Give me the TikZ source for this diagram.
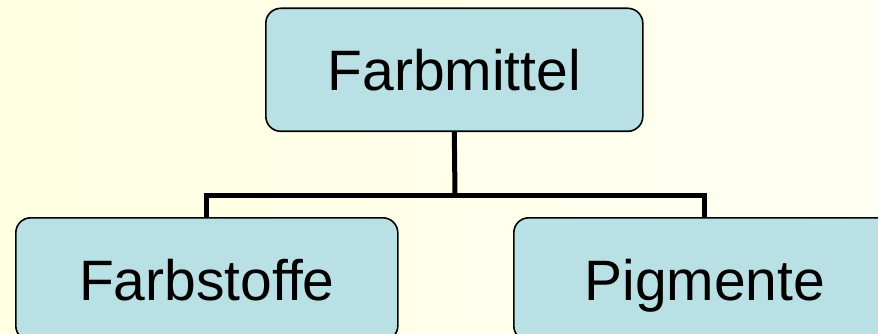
\documentclass[tikz,border=0pt]{standalone}
\usepackage{fontspec}
\setmainfont{Liberation Sans}
\definecolor{boxfill}{RGB}{185,224,228}
\definecolor{bgleft}{RGB}{255,255,225}
\definecolor{bgright}{RGB}{255,255,243}
\begin{document}
\begin{tikzpicture}[
  box/.style={draw=black, line width=1.6pt, fill=boxfill, rounded corners=15pt,
    minimum width=377pt, minimum height=123pt, inner sep=0pt,
    text height=41.5pt, text depth=0pt,
    font=\fontsize{57}{60}\selectfont},
  conn/.style={draw=black, line width=5pt}
]
\useasboundingbox (0,0) rectangle (878pt,-334pt);
\clip (0,0) rectangle (878pt,-334pt);
\shade[left color=bgleft, right color=bgright] (0,0) rectangle (878pt,-334pt);
\node[box, anchor=north west] (top) at (265pt,-7.5pt) {Farbmittel};
\node[box, anchor=north west, minimum width=382pt] (bl) at (15pt,-217pt) {Farbstoffe};
\node[box, anchor=north west, minimum width=382pt] (br) at (513pt,-217pt) {Pigmente};
\coordinate (j) at (455pt,-195pt);
\draw[conn] (top.south) -- (j);
\draw[conn] (bl.north) |- (j) -| (br.north);
\end{tikzpicture}
\end{document}
